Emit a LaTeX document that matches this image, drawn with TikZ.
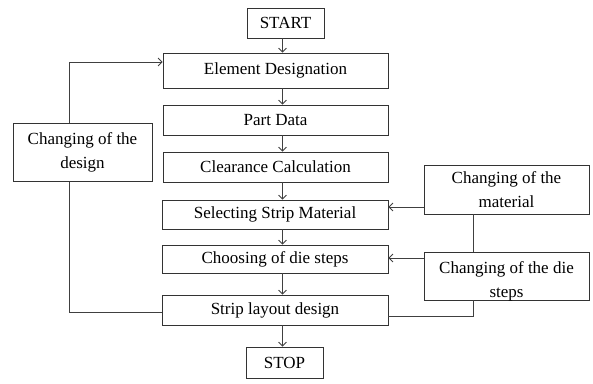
\documentclass[tikz,border=0pt]{standalone}
\usepackage{fontspec}
\setmainfont{Liberation Serif}
\usetikzlibrary{arrows.meta}
\begin{document}
\begin{tikzpicture}[x=1pt,y=-1pt,
  box/.style={draw=black!80,line width=0.8pt,inner sep=0pt,font=\fontsize{17}{23}\selectfont,align=center},
  conn/.style={draw=black!75,line width=0.8pt},
  arr/.style={conn,-{Straight Barb[length=4pt,width=8pt,line width=0.8pt]}}]
\useasboundingbox (0,0) rectangle (593,383);
\node[box,minimum width=77pt,minimum height=30pt] (start) at (285.5,23) {START};
\node[box,minimum width=225pt,minimum height=35pt] (elem) at (275.5,70.5) {Element Designation};
\node[box,minimum width=225pt,minimum height=30pt] (part) at (275.5,120) {Part Data};
\node[box,minimum width=225pt,minimum height=30pt] (clear) at (275.5,167) {Clearance Calculation};
\node[box,minimum width=226pt,minimum height=29pt] (sel) at (275,214.5) {Selecting Strip Material};
\node[box,minimum width=226pt,minimum height=28pt] (choose) at (275,259) {Choosing of die steps};
\node[box,minimum width=226pt,minimum height=30pt] (strip) at (275,310) {Strip layout design};
\node[box,minimum width=77pt,minimum height=31pt] (stop) at (284.5,362.5) {STOP};
\node[box,minimum width=139pt,minimum height=58pt,font=\fontsize{17}{24}\selectfont] (design) at (82.5,152.5) {Changing of the\\design};
\node[box,minimum width=165pt,minimum height=49pt,font=\fontsize{17}{24}\selectfont] (mat) at (506.5,189.5) {Changing of the\\material};
\node[box,minimum width=165pt,minimum height=48pt] (die) at (506.5,276) {};
\begin{scope}
\clip (die.south west) rectangle (die.north east);
\node[font=\fontsize{17}{24}\selectfont,align=center,anchor=north,inner sep=0pt] (dietext) at (506.5,261) {Changing of the die\\steps};
\end{scope}
\coordinate (ax) at (282.5,0);
\coordinate (lx) at (69,0);
\coordinate (rx) at (473,0);
\draw[arr] (start.south -| ax) -- (elem.north -| ax);
\draw[arr] (elem.south -| ax) -- (part.north -| ax);
\draw[arr] (part.south -| ax) -- (clear.north -| ax);
\draw[arr] (clear.south -| ax) -- (sel.north -| ax);
\draw[arr] (sel.south -| ax) -- (choose.north -| ax);
\draw[arr] (choose.south -| ax) -- (strip.north -| ax);
\draw[arr] (strip.south -| ax) -- (stop.north -| ax);
\coordinate (sl) at (0,312);
\coordinate (el) at (0,62);
\draw[conn] (strip.west |- sl) -- (lx |- sl) -- (design.south -| lx);
\draw[arr] (design.north -| lx) -- (lx |- el) -- (elem.west |- el);
\coordinate (my) at (0,207);
\coordinate (dy) at (0,258);
\coordinate (sy) at (0,316);
\draw[arr] (mat.west |- my) -- (sel.east |- my);
\draw[arr] (die.west |- dy) -- (choose.east |- dy);
\draw[conn] (mat.south -| rx) -- (die.north -| rx);
\draw[conn] (die.south -| rx) -- (rx |- sy) -- (strip.east |- sy);
\end{tikzpicture}
\end{document}
